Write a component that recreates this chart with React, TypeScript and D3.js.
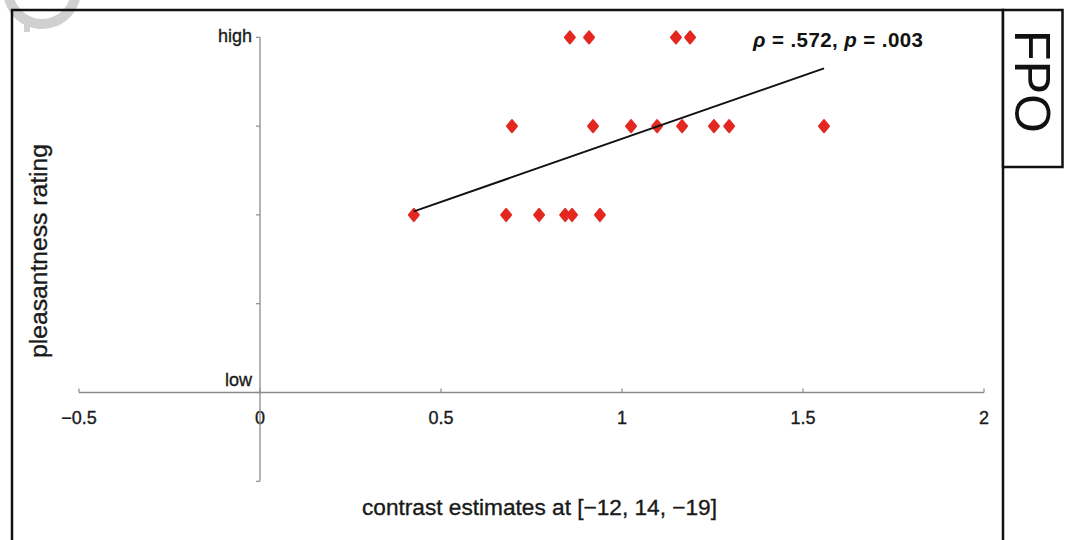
import React from "react";
import * as d3 from "d3";

// ---- data ----
const ratingHighX = [0.856, 0.909, 1.149, 1.188]; // rating = 5 (high)
const ratingFourX = [0.696, 0.92, 1.025, 1.097, 1.166, 1.254, 1.296, 1.558]; // rating = 4
const ratingThreeX = [0.425, 0.68, 0.771, 0.843, 0.862, 0.939]; // rating = 3
const fitX = [0.425, 1.558];
const fitY = [3.04, 4.65];
const xTicks = [-0.5, 0, 0.5, 1, 1.5, 2];
const xTickLabels = ["\u22120.5", "0", "0.5", "1", "1.5", "2"];
const yTicks = [0, 1, 2, 3, 4, 5];
const yTickLabels: Record<number, string> = { 1: "low", 5: "high" };
const statText = { rho: ".572", p: ".003" };
const xLabel = "contrast estimates at [\u221212, 14, \u221219]";
const yLabel = "pleasantness rating";

const FONT = "'Liberation Sans', Arial, Helvetica, sans-serif";

export default function App() {
  const x = d3.scaleLinear().domain([-0.5, 2]).range([79, 984]);
  const y = d3.scaleLinear().domain([0, 5]).range([481.3, 37.3]);

  const points: { cx: number; r: number }[] = [
    ...ratingHighX.map((cx) => ({ cx, r: 5 })),
    ...ratingFourX.map((cx) => ({ cx, r: 4 })),
    ...ratingThreeX.map((cx) => ({ cx, r: 3 })),
  ];

  const line = d3
    .line<number>()
    .x((d) => x(fitX[d]))
    .y((d) => y(fitY[d]));

  const diamond = (cx: number, cy: number) => {
    const w = 5, h = 6;
    return `M${cx},${cy - h}L${cx + w},${cy}L${cx},${cy + h}L${cx - w},${cy}Z`;
  };

  const wmArc = d3.arc()({
    innerRadius: 29,
    outerRadius: 39,
    startAngle: Math.PI * 0.45,
    endAngle: Math.PI * 1.6,
  } as any) as string;

  const axisColor = "#8c8c8c";
  const y0 = y(1);
  const x0 = x(0);
  const txt = { fill: "#1a1a1a", stroke: "#1a1a1a", strokeWidth: 0.35 };

  return (
    <svg
      width={1069}
      height={540}
      style={{ position: "fixed", left: 0, top: 0, background: "#fff" }}
      fontFamily={FONT}
    >
      <rect x={0} y={0} width={1069} height={540} fill="#fff" />
      {/* watermark */}
      <path d={wmArc} transform="translate(42,-10)" fill="#d0d0d0" />
      <rect x={24} y={18} width={6} height={14} fill="#d0d0d0" />

      {/* frame */}
      <path d="M12,540 L12,10 L1003,10 L1003,540" fill="none" stroke="#111" strokeWidth={2.5} />
      {/* FPO box */}
      <rect x={1003} y={10} width={59.5} height={157} fill="#fff" stroke="#111" strokeWidth={2.5} />
      <text
        transform="translate(1015,81.5) rotate(90)"
        textAnchor="middle"
        fontSize={50}
        fill="#111"
        fontWeight={300}
      >
        FPO
      </text>

      {/* x axis */}
      <line x1={x(-0.5)} x2={x(2)} y1={y0} y2={y0} stroke={axisColor} strokeWidth={1.3} />
      {xTicks.map((t, i) => (
        <g key={"xt" + i}>
          <line x1={x(t)} x2={x(t)} y1={y0} y2={y0 - 4} stroke={axisColor} strokeWidth={1.2} />
          <text x={x(t)} y={424} textAnchor="middle" fontSize={18} {...txt}>
            {xTickLabels[i]}
          </text>
        </g>
      ))}

      {/* y axis */}
      <line x1={x0} x2={x0} y1={y(5)} y2={y(0)} stroke={axisColor} strokeWidth={1.3} />
      {yTicks.map((t) => (
        <g key={"yt" + t}>
          <line x1={x0} x2={x0 - 4} y1={y(t)} y2={y(t)} stroke={axisColor} strokeWidth={1.2} />
          {yTickLabels[t] && (
            <text
              x={x0 - 8}
              y={t === 5 ? y(t) + 5 : y(t) - 7}
              textAnchor="end"
              fontSize={18}
              {...txt}
            >
              {yTickLabels[t]}
            </text>
          )}
        </g>
      ))}

      {/* points */}
      {points.map((p, i) => (
        <g key={"p" + i}>
          <path d={diamond(x(p.cx), y(p.r) + 2)} fill="#c8b8b8" opacity={0.6} />
          <path
            d={diamond(x(p.cx), y(p.r))}
            fill="#e4281f"
            stroke="#e4281f"
            strokeWidth={2}
            strokeLinejoin="round"
          />
        </g>
      ))}

      {/* fit line */}
      <path d={line([0, 1]) as string} fill="none" stroke="#111" strokeWidth={2} />

      {/* statistics */}
      <text x={753} y={47} fontSize={20.5} fontWeight="bold" fill="#111" textLength={170} lengthAdjust="spacing">
        <tspan fontStyle="italic">ρ</tspan>
        {` = ${statText.rho}, `}
        <tspan fontStyle="italic">p</tspan>
        {` = ${statText.p}`}
      </text>

      {/* axis titles */}
      <text x={362} y={515} fontSize={21.5} {...txt} textLength={355} lengthAdjust="spacingAndGlyphs">
        {xLabel}
      </text>
      <text
        transform="translate(47,251) rotate(-90)"
        textAnchor="middle"
        fontSize={23}
        {...txt}
        textLength={214}
        lengthAdjust="spacingAndGlyphs"
      >
        {yLabel}
      </text>
    </svg>
  );
}
